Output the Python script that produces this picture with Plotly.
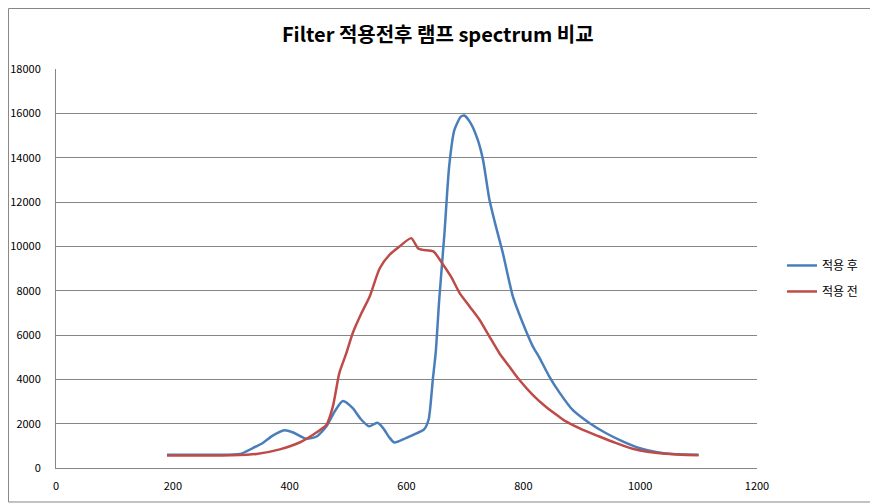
import plotly.graph_objects as go

# 파장(nm) / 세기 값 - 그림에서 읽어낸 값
after_x = [190, 250, 315, 337, 354, 371, 391, 406, 428, 446, 463, 477, 491, 508, 522,
           536, 550, 560, 570, 579, 599, 617, 630, 638, 645, 650, 656, 665, 673, 682,
           693, 699, 710, 722, 731, 742, 753, 765, 782, 799, 816, 827, 844, 862, 884,
           913, 941, 970, 998, 1027, 1055, 1078, 1100]
after_y = [600, 600, 630, 900, 1130, 1460, 1700, 1600, 1320, 1420, 1880, 2550, 3020, 2700, 2200,
           1880, 2040, 1800, 1400, 1150, 1350, 1560, 1740, 2200, 3980, 5200, 7590, 10600, 13600, 15250,
           15850, 15900, 15550, 14800, 13900, 12100, 10900, 9690, 7740, 6540, 5500, 5000, 4150, 3400, 2630,
           2030, 1580, 1200, 900, 720, 630, 610, 600]

before_x = [190, 250, 300, 343, 383, 417, 440, 463, 474, 485, 497, 508, 523, 537, 554,
            571, 588, 608, 620, 628, 646, 661, 676, 691, 708, 725, 742, 759, 776, 793,
            816, 839, 862, 873, 901, 930, 958, 987, 1015, 1044, 1070, 1100]
before_y = [560, 560, 570, 630, 840, 1150, 1500, 1950, 2780, 4280, 5180, 6090, 6990, 7740, 9000,
            9620, 9990, 10370, 9900, 9840, 9770, 9240, 8640, 7890, 7290, 6690, 5930, 5180, 4580, 3980,
            3300, 2750, 2300, 2100, 1730, 1420, 1130, 870, 720, 645, 600, 580]

x_ticks = [0, 200, 400, 600, 800, 1000, 1200]
y_ticks = [0, 2000, 4000, 6000, 8000, 10000, 12000, 14000, 16000, 18000]

font_kr = "Noto Sans CJK KR"

fig = go.Figure()
fig.add_trace(go.Scatter(x=after_x, y=after_y, name="적용 후", mode="lines", legendgroup="a",
                         line=dict(color="#4a7ebb", width=2.5, shape="spline", smoothing=0.6)))
fig.add_trace(go.Scatter(x=before_x, y=before_y, name="적용 전", mode="lines", legendgroup="b",
                         line=dict(color="#be4b48", width=2.5, shape="spline", smoothing=0.6)))

# 페이지 body 기본 여백(8px)만큼 크기를 줄여서 맞춤
fig.update_layout(
    width=870, height=496,
    margin=dict(l=48, r=121, t=61, b=36),
    paper_bgcolor="white", plot_bgcolor="white",
    font=dict(family=font_kr, size=11, color="#000000"),
    title=dict(text="<b>Filter 적용전후 램프 spectrum 비교</b>",
               x=0.494, xref="container", xanchor="center",
               y=0.946, yref="container", yanchor="middle",
               font=dict(family=font_kr, size=20, color="#000000")),
    showlegend=True,
    legend=dict(x=1.0357, y=0.475, xanchor="left", yanchor="middle",
                font=dict(family=font_kr, size=12), bgcolor="rgba(0,0,0,0)",
                tracegroupgap=7),
)
fig.update_xaxes(range=[0, 1200], tickvals=x_ticks, showgrid=False,
                 showline=True, linecolor="#868686", linewidth=1,
                 ticks="", zeroline=False, ticklabelstandoff=8, automargin=False)
fig.update_yaxes(range=[0, 18000], tickvals=y_ticks, tickformat="d", showgrid=True,
                 gridcolor="#868686", gridwidth=1,
                 showline=True, linecolor="#868686", linewidth=1,
                 zeroline=False, ticklabelstandoff=12, automargin=False)

# 차트 외곽 테두리
fig.add_shape(type="rect", xref="paper", yref="paper",
              x0=-0.0678, x1=1.1698, y0=-0.0852, y1=1.1516,
              line=dict(color="#868686", width=1), layer="above")

fig.write_html("out.html")
